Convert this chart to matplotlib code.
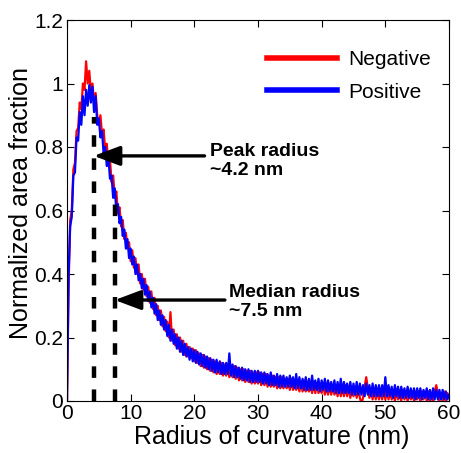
import numpy as np
import matplotlib
matplotlib.use("Agg")
import matplotlib.pyplot as plt

plt.rcParams['font.family'] = ['Liberation Sans', 'DejaVu Sans']

# radius bins (nm), 0.25 nm steps from 0 to 60
radius = np.arange(241) * 0.25

negative = [
    0, 0.36, 0.57, 0.60, 0.73, 0.75, 0.85, 0.86, 0.94, 0.92, 1.00, 0.98, 1.07, 1.00, 1.04, 0.97, 1.00, 0.94, 0.97, 0.90,
    0.87, 0.90, 0.84, 0.855, 0.79, 0.81, 0.74, 0.76, 0.69, 0.71, 0.64, 0.66, 0.59, 0.61, 0.55, 0.57, 0.51, 0.53, 0.48, 0.50,
    0.44, 0.475, 0.42, 0.45, 0.40, 0.43, 0.37, 0.40, 0.35, 0.385, 0.33, 0.36, 0.31, 0.345, 0.29, 0.325, 0.27, 0.30, 0.255, 0.285,
    0.235, 0.265, 0.22, 0.25, 0.20, 0.28, 0.19, 0.225, 0.175, 0.21, 0.165, 0.20, 0.155, 0.19, 0.145, 0.18, 0.14, 0.17, 0.135, 0.165,
    0.125, 0.16, 0.12, 0.15, 0.11, 0.145, 0.105, 0.14, 0.10, 0.135, 0.095, 0.13, 0.09, 0.125, 0.085, 0.12, 0.085, 0.12, 0.08, 0.115,
    0.08, 0.115, 0.075, 0.11, 0.075, 0.11, 0.07, 0.105, 0.065, 0.10, 0.065, 0.10, 0.06, 0.095, 0.06, 0.095, 0.055, 0.09, 0.055, 0.09,
    0.055, 0.09, 0.05, 0.085, 0.05, 0.085, 0.045, 0.08, 0.045, 0.08, 0.045, 0.075, 0.04, 0.075, 0.04, 0.075, 0.04, 0.07, 0.04, 0.07,
    0.035, 0.07, 0.035, 0.065, 0.035, 0.065, 0.03, 0.06, 0.03, 0.065, 0.03, 0.06, 0.03, 0.06, 0.025, 0.06, 0.025, 0.055, 0.025, 0.055,
    0.025, 0.055, 0.02, 0.05, 0.02, 0.055, 0.02, 0.05, 0.02, 0.05, 0.015, 0.05, 0.015, 0.045, 0.015, 0.05, 0.015, 0.045, 0.01, 0.045,
    0.015, 0.045, 0.01, 0.045, 0.01, -0.008, 0.01, 0.045, 0.075, 0.04, 0.01, 0.04, 0.005, 0.04, 0.005, 0.04, 0.005, 0.035, 0.005, 0.04,
    0.005, 0.035, 0.005, 0.035, 0.005, 0.035, 0.0, 0.035, 0.005, 0.03, 0.0, 0.035, 0.005, 0.03, 0.0, 0.03, 0.005, 0.03, 0.0, 0.03,
    0.005, 0.03, 0.0, 0.03, 0.005, 0.03, 0.0, 0.03, 0.0, 0.025, 0.0, 0.03, 0.05, 0.025, 0.0, 0.025, 0.0, 0.03, 0.0, 0.025,
    0.01,
]

positive = [
    0, 0.40, 0.55, 0.58, 0.71, 0.72, 0.83, 0.82, 0.91, 0.87, 0.96, 0.90, 0.98, 0.93, 0.995, 0.94, 0.99, 0.91, 0.96, 0.87,
    0.89, 0.83, 0.85, 0.78, 0.80, 0.74, 0.77, 0.70, 0.71, 0.64, 0.67, 0.60, 0.62, 0.56, 0.58, 0.52, 0.54, 0.48, 0.51, 0.45,
    0.48, 0.43, 0.455, 0.40, 0.43, 0.38, 0.40, 0.355, 0.385, 0.335, 0.365, 0.315, 0.345, 0.295, 0.325, 0.275, 0.305, 0.255, 0.285, 0.24,
    0.27, 0.225, 0.255, 0.205, 0.24, 0.19, 0.225, 0.18, 0.21, 0.165, 0.20, 0.155, 0.19, 0.145, 0.18, 0.14, 0.17, 0.13, 0.165, 0.125,
    0.16, 0.12, 0.155, 0.115, 0.15, 0.11, 0.145, 0.105, 0.14, 0.10, 0.135, 0.095, 0.13, 0.09, 0.13, 0.09, 0.125, 0.085, 0.12, 0.085,
    0.12, 0.085, 0.15, 0.08, 0.115, 0.075, 0.11, 0.075, 0.105, 0.07, 0.105, 0.065, 0.10, 0.065, 0.10, 0.06, 0.095, 0.06, 0.095, 0.06,
    0.095, 0.06, 0.09, 0.055, 0.09, 0.055, 0.085, 0.05, 0.09, 0.05, 0.08, 0.05, 0.085, 0.045, 0.08, 0.045, 0.08, 0.045, 0.075, 0.045,
    0.08, 0.045, 0.075, 0.04, 0.085, 0.04, 0.075, 0.04, 0.07, 0.035, 0.075, 0.035, 0.07, 0.035, 0.08, 0.035, 0.065, 0.035, 0.07, 0.03,
    0.065, 0.035, 0.07, 0.03, 0.065, 0.03, 0.06, 0.03, 0.065, 0.025, 0.06, 0.025, 0.07, 0.025, 0.06, 0.025, 0.055, 0.025, 0.06, 0.02,
    0.055, 0.02, 0.06, 0.02, 0.055, 0.02, 0.05, 0.015, 0.055, 0.02, 0.05, 0.015, 0.055, 0.015, 0.05, 0.015, 0.05, 0.015, 0.05, 0.015,
    0.075, 0.015, 0.05, 0.015, 0.045, 0.01, 0.05, 0.015, 0.045, 0.01, 0.045, 0.01, 0.04, 0.01, 0.045, 0.01, 0.04, 0.01, 0.04, 0.005,
    0.04, 0.01, 0.04, 0.005, 0.035, 0.01, 0.04, 0.005, 0.035, 0.005, 0.04, 0.005, 0.035, 0.005, 0.035, 0.005, 0.035, 0.005, 0.03, 0.005,
    0.02,
]

series_labels = ["Negative", "Positive"]
series_colors = ["#ff0000", "#0000ff"]

marker_radius = [4.2, 7.5]          # peak, median
marker_height = [0.895, 0.62]
arrow_y = [0.772, 0.318]
arrow_tail_x = [21.6, 24.8]
note_texts = ["Peak radius\n~4.2 nm", "Median radius\n~7.5 nm"]
note_x = [22.4, 25.5]
note_y = [0.757, 0.313]

xticks = [0, 10, 20, 30, 40, 50, 60]
yticks = [0, 0.2, 0.4, 0.6, 0.8, 1.0, 1.2]
ytick_labels = ["0", "0.2", "0.4", "0.6", "0.8", "1", "1.2"]

fig = plt.figure(figsize=(4.61, 4.53), dpi=100)
ax = fig.add_axes([67 / 461, 1 - 401 / 453, (449 - 67) / 461, (401 - 20) / 453])

for vals, lab, col in zip([negative, positive], series_labels, series_colors):
    ax.plot(radius, vals, color=col, lw=1.6, label=lab)

for mx, mh in zip(marker_radius, marker_height):
    ax.plot([mx, mx], [0, mh], color="black", lw=3.2, linestyle=(0, (2.6, 2.6)))

for ay, tx, nt, nx, ny, mx in zip(arrow_y, arrow_tail_x, note_texts, note_x, note_y, marker_radius):
    ax.annotate("", xy=(mx, ay), xytext=(tx, ay),
                arrowprops=dict(arrowstyle="-|>,head_length=0.8,head_width=0.3",
                                mutation_scale=20, lw=2.4, color="black",
                                shrinkA=0, shrinkB=0))
    ax.text(nx, ny, nt, fontsize=14, fontweight="bold", va="center", ha="left",
            linespacing=1.15)

ax.set_xlim(0, 60)
ax.set_ylim(0, 1.2)
ax.set_xticks(xticks)
ax.set_yticks(yticks)
ax.set_yticklabels(ytick_labels)
ax.tick_params(direction="in", top=True, right=True, labelsize=15, length=5, width=0.8)
ax.tick_params(axis="y", pad=3)
ax.tick_params(axis="x", pad=2.5)
for s in ax.spines.values():
    s.set_linewidth(0.8)

ax.set_xlabel("Radius of curvature (nm)", fontsize=18)
ax.set_ylabel("Normalized area fraction", fontsize=18)
ax.xaxis.set_label_coords(0.535, -0.064)
ax.yaxis.set_label_coords(-0.089, 0.52)

leg = ax.legend(loc="upper left", frameon=False, fontsize=15, handlelength=3.37,
                handletextpad=0.53, labelspacing=0.65, borderpad=0, borderaxespad=0,
                bbox_to_anchor=(0.5236, 0.921))
for h in leg.get_lines():
    h.set_linewidth(4)

fig.savefig("out.png", dpi=100)
